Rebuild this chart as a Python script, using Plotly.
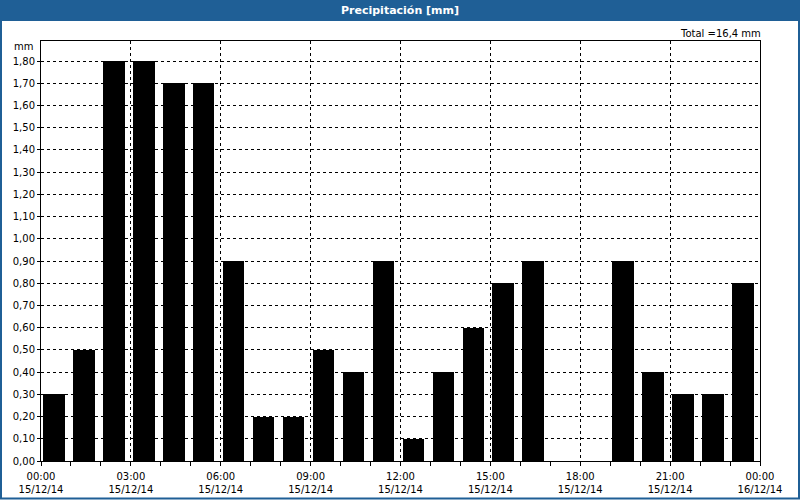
import plotly.graph_objects as go

# ---- data ----
hours = ["2014-12-15 %02d:00" % h for h in range(24)]
precip = [0.3, 0.5, 1.8, 1.8, 1.7, 1.7, 0.9, 0.2, 0.2, 0.5, 0.4, 0.9,
          0.1, 0.4, 0.6, 0.8, 0.9, 0.0, 0.0, 0.9, 0.4, 0.3, 0.3, 0.8]
tick_vals = ["2014-12-15 00:00", "2014-12-15 03:00", "2014-12-15 06:00",
             "2014-12-15 09:00", "2014-12-15 12:00", "2014-12-15 15:00",
             "2014-12-15 18:00", "2014-12-15 21:00", "2014-12-16 00:00"]
tick_text = ["00:00<br>15/12/14", "03:00<br>15/12/14", "06:00<br>15/12/14",
             "09:00<br>15/12/14", "12:00<br>15/12/14", "15:00<br>15/12/14",
             "18:00<br>15/12/14", "21:00<br>15/12/14", "00:00<br>16/12/14"]
title_text = "Precipitación [mm]"
unit_label = "mm"

W, H = 800, 500
ML, MR, MT, MB = 41, 40, 41, 39
PW, PH = W - ML - MR, H - MT - MB

def px_x(x):
    return (x - ML) / PW

def px_y(y):
    return (H - MB - y) / PH

HOUR_MS = 3600 * 1000
FONT = "DejaVu Sans"

fig = go.Figure(go.Bar(
    x=hours, y=precip,
    width=0.72 * HOUR_MS, offset=0.07 * HOUR_MS,
    marker=dict(color="#000000", line=dict(width=0)),
))

total = sum(precip)
total_txt = ("Total =%.1f mm" % total).replace(".", ",")

fig.update_layout(
    width=W, height=H,
    margin=dict(l=ML, r=MR, t=MT, b=MB, autoexpand=False),
    paper_bgcolor="white", plot_bgcolor="white",
    separators=",.",
    showlegend=False,
    font=dict(family=FONT, size=10, color="#000000"),
    bargap=0,
    xaxis=dict(
        type="date",
        range=["2014-12-15 00:00", "2014-12-16 00:00"],
        tickvals=tick_vals, ticktext=tick_text,
        ticks="outside", ticklen=4, tickcolor="#000",
        ticklabelstandoff=2, automargin=False,
        showgrid=True, gridcolor="#000", gridwidth=1, griddash="3px,3px",
        showline=True, linecolor="#000", linewidth=1, mirror=True,
        zeroline=False,
        minor=dict(dtick=HOUR_MS, ticks="outside", ticklen=4, tickcolor="#000", showgrid=False),
        tickfont=dict(family=FONT, size=10),
        fixedrange=True,
    ),
    yaxis=dict(
        range=[0, 1.89],
        tick0=0, dtick=0.1, tickformat=".2f",
        ticks="outside", ticklen=3, tickcolor="#000",
        automargin=False,
        showgrid=True, gridcolor="#000", gridwidth=1, griddash="3px,3px",
        showline=True, linecolor="#000", linewidth=1, mirror=True,
        zeroline=False,
        tickfont=dict(family=FONT, size=10),
        fixedrange=True,
    ),
    shapes=[
        dict(type="rect", xref="paper", yref="paper",
             x0=px_x(0), x1=px_x(W), y0=px_y(20), y1=px_y(0),
             fillcolor="#1f5f96", line=dict(width=0), layer="above"),
        dict(type="rect", xref="paper", yref="paper",
             x0=px_x(1), x1=px_x(W - 1), y0=px_y(H - 1.5), y1=px_y(20),
             fillcolor="rgba(0,0,0,0)", line=dict(color="#1f5f96", width=2), layer="above"),
    ],
    annotations=[
        dict(text="<b>%s</b>" % title_text, xref="paper", yref="paper",
             x=px_x(400), y=px_y(10), xanchor="center", yanchor="middle",
             showarrow=False, font=dict(family=FONT, size=11, color="white")),
        dict(text=total_txt, xref="paper", yref="paper",
             x=px_x(763), y=px_y(33), xanchor="right", yanchor="middle",
             showarrow=False, font=dict(family=FONT, size=10, color="#000")),
        dict(text=unit_label, xref="paper", yref="paper",
             x=px_x(35), y=px_y(47), xanchor="right", yanchor="middle",
             showarrow=False, font=dict(family=FONT, size=10, color="#000")),
    ],
)

fig.write_html("out.html")
